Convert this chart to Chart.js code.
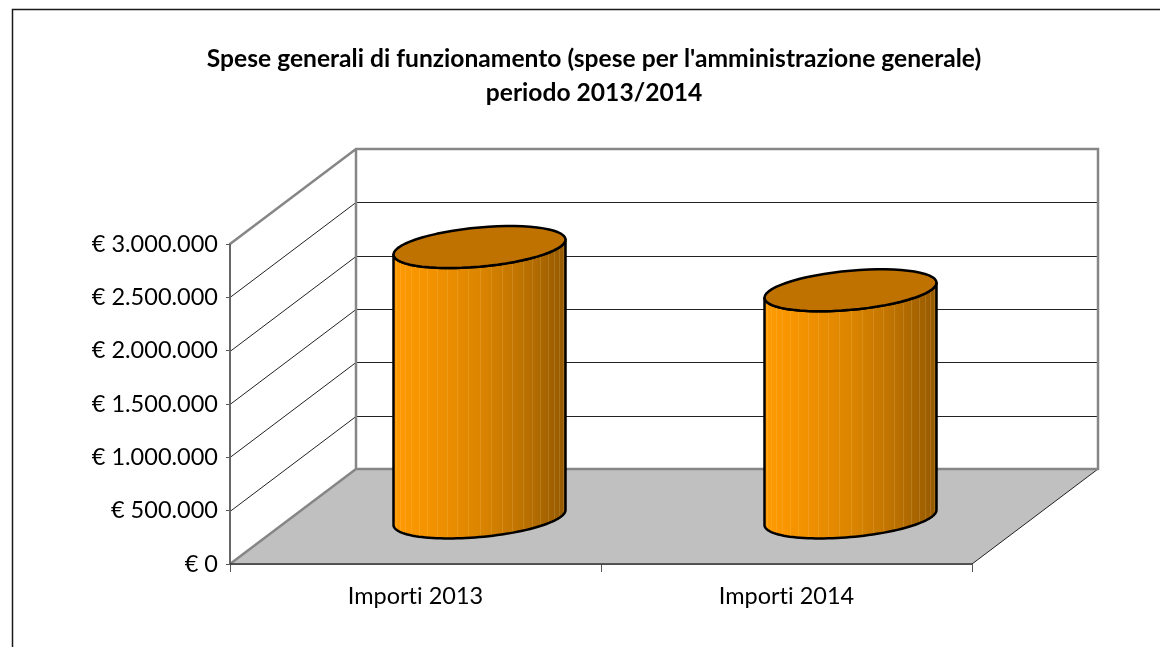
<!DOCTYPE html>
<html><head><meta charset="utf-8">
<style>html,body{margin:0;padding:0;background:#fff;overflow:hidden}canvas{display:block}</style>
<script src="https://cdn.jsdelivr.net/npm/chart.js@4"></script></head>
<body><div style="width:1160px;height:647px"><canvas id="c" width="1160" height="647"></canvas></div>
<script>
const categories = ["Importi 2013", "Importi 2014"];
const importi = [2540000, 2135000];
const titleLines = ["Spese generali di funzionamento (spese per l'amministrazione generale)", "periodo 2013/2014"];
const yMax = 3000000;
const yStep = 500000;

const DX = 126, DY = 95;
const fmt = v => "€ " + String(v).replace(/\B(?=(\d{3})+(?!\d))/g, ".");

const scene = {
  id: "scene",
  afterLayout(chart) {
    chart.titleBlock.left = 0;
    chart.titleBlock.right = 1188;
  },
  beforeDraw(chart) {
    const c = chart.ctx;
    c.letterSpacing = "0.01px";
    c.save();
    c.fillStyle = "#fff"; c.fillRect(0, 0, 1160, 647);
    c.strokeStyle = "#1a1a1a"; c.lineWidth = 1.5;
    c.beginPath(); c.moveTo(12.5, 660); c.lineTo(12.5, 9.5); c.lineTo(1160, 9.5); c.stroke();
    c.restore();
  },
  beforeDatasetsDraw(chart) {
    const c = chart.ctx, { left: L, right: R } = chart.chartArea;
    const y = chart.scales.y;
    const y0 = y.getPixelForValue(0), yT = y.getPixelForValue(yMax);
    c.save();
    c.fillStyle = "#c0c0c0";
    c.beginPath(); c.moveTo(L, y0); c.lineTo(R, y0); c.lineTo(R + DX, y0 - DY); c.lineTo(L + DX, y0 - DY); c.closePath(); c.fill();
    c.strokeStyle = "#222"; c.lineWidth = 1;
    y.ticks.forEach(t => {
      if (t.value === 0 || t.value === yMax) return;
      const p = Math.round(y.getPixelForValue(t.value)) + .5;
      c.beginPath(); c.moveTo(L, p); c.lineTo(L + DX, p - DY); c.lineTo(R + DX, p - DY); c.stroke();
    });
    c.beginPath(); c.moveTo(R, y0); c.lineTo(R + DX, y0 - DY); c.stroke();
    c.strokeStyle = "#868686"; c.lineWidth = 2.5;
    c.beginPath();
    c.moveTo(L, yT); c.lineTo(L + DX, yT - DY); c.lineTo(R + DX, yT - DY); c.lineTo(R + DX, y0 - DY); c.lineTo(L + DX, y0 - DY); c.lineTo(L, y0);
    c.moveTo(L + DX, yT - DY); c.lineTo(L + DX, y0 - DY);
    c.stroke();
    c.strokeStyle = "#666"; c.lineWidth = 2;
    c.beginPath(); c.moveTo(L, yT); c.lineTo(L, y0); c.stroke();
    c.strokeStyle = "#333"; c.lineWidth = 1.5;
    c.beginPath(); c.moveTo(L, y0); c.lineTo(R, y0); c.stroke();
    c.restore();
  },
  afterDatasetsDraw(chart) {
    const c = chart.ctx;
    chart.getDatasetMeta(0).data.forEach(bar => {
      const a = bar.width / 2, cx = bar.x + DX / 2 + 1, sk = 7.5, b = 19.6;
      const base = bar.base - 46, top = bar.y - 46;
      const path = (cy, from, to, move) => {
        for (let i = 0; i <= 60; i++) {
          const t = from + (to - from) * i / 60;
          const px = cx + a * Math.cos(t), py = cy - sk * Math.cos(t) - b * Math.sin(t);
          if (i === 0 && move) c.moveTo(px, py); else c.lineTo(px, py);
        }
      };
      c.save();
      const body = () => { c.beginPath(); path(top, 0, -Math.PI, true); path(base, -Math.PI, 0, false); c.closePath(); };
      const g = c.createLinearGradient(cx - a, 0, cx + a, 0);
      g.addColorStop(0, "#ff9a00"); g.addColorStop(.2, "#f49300"); g.addColorStop(.5, "#dc8500");
      g.addColorStop(.75, "#bd7200"); g.addColorStop(1, "#945900");
      body(); c.fillStyle = g; c.fill();
      c.save(); body(); c.clip();
      c.strokeStyle = "rgba(255,225,170,.16)"; c.lineWidth = 1;
      for (let i = 1; i < 24; i++) {
        const x = Math.round(cx - a * Math.cos(i * Math.PI / 24)) + .5;
        c.beginPath(); c.moveTo(x, top - 40); c.lineTo(x, base + 40); c.stroke();
      }
      c.restore();
      c.strokeStyle = "#000"; c.lineWidth = 2.5; c.lineJoin = "round";
      body(); c.stroke();
      c.beginPath(); path(top, 0, Math.PI * 2, true); c.closePath();
      c.fillStyle = "#bf7200"; c.fill(); c.stroke();
      c.restore();
    });
  }
};

new Chart(document.getElementById("c"), {
  type: "bar",
  data: { labels: categories, datasets: [{ label: "Importi", data: importi, backgroundColor: "rgba(0,0,0,0)", barPercentage: 172 / 371, categoryPercentage: 1 }] },
  plugins: [scene],
  options: {
    responsive: false, animation: false, devicePixelRatio: 1,
    layout: { padding: { top: 0, left: 0, right: 188, bottom: 0 } },
    plugins: {
      legend: { display: false }, tooltip: { enabled: false },
      title: { display: true, text: titleLines, color: "#000", font: { family: "Lato", size: 24.6, weight: "bold", lineHeight: 34 / 24.6 }, padding: { top: 42, bottom: 134 } }
    },
    scales: {
      x: {
        offset: true,
        afterFit: s => { s.height = 83; },
        grid: { offset: true, drawOnChartArea: false, tickLength: 8, color: "#555" },
        border: { color: "#333", width: 1.5 },
        ticks: { color: "#000", font: { family: "Lato", size: 23.5 }, padding: 10, maxRotation: 0 }
      },
      y: {
        min: 0, max: yMax,
        afterFit: s => { s.width = 230; },
        grid: { drawOnChartArea: false, tickLength: 4, color: "#555" },
        border: { color: "#666", width: 2 },
        ticks: { stepSize: yStep, color: "#000", font: { family: "Lato", size: 23.5 }, padding: 8, callback: fmt }
      }
    }
  }
});
</script></body></html>
